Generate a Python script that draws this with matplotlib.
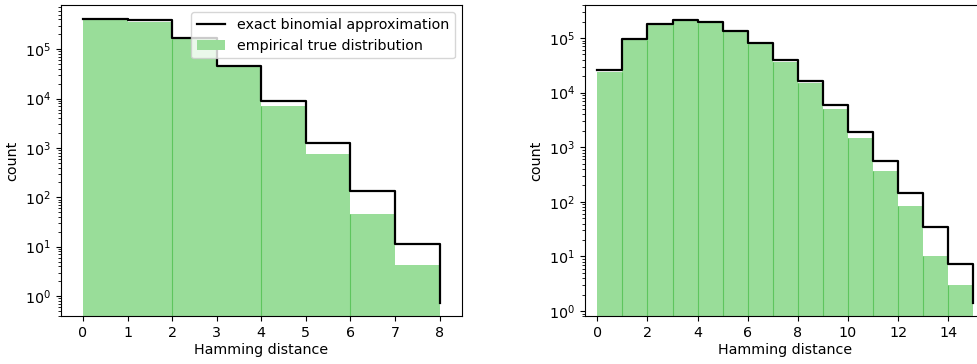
import numpy as np
import matplotlib.pyplot as plt

# left panel: 8-bit distances
left_x = list(range(9))
left_exact = [4.07e5, 3.84e5, 1.68e5, 4.64e4, 8.86e3, 1.23e3, 132, 11.1, 0.71]
left_emp = [3.9e5, 3.5e5, 1.58e5, 4.4e4, 7.1e3, 760, 45, 4.2]
left_seams = [2, 4, 6]

# right panel: 15-bit distances
right_x = list(range(16))
right_exact = [2.59e4, 9.67e4, 1.82e5, 2.18e5, 1.95e5, 1.37e5, 8.07e4, 3.88e4,
               1.65e4, 5.93e3, 1.9e3, 552, 146, 34, 7.2, 1.4]
right_emp = [2.34e4, 9.3e4, 1.78e5, 2.12e5, 1.88e5, 1.32e5, 7.8e4, 3.67e4,
             1.47e4, 4.93e3, 1.46e3, 373, 85.5, 10, 3.0]
right_seams = list(range(1, 15))

fill = '#99dd99'
seam = '#5ec55e'

plt.rcParams['font.size'] = 10.3

fig = plt.figure(figsize=(9.77, 3.64), dpi=100)
ax1 = fig.add_axes([0.0621, 0.131, 0.4107, 0.856])
ax2 = fig.add_axes([0.5985, 0.131, 0.4107, 0.856])


def panel(ax, x, exact, emp, seams, ylim):
    ax.bar(x[:-1], emp, width=1, align='edge', color=fill, linewidth=0,
           label='empirical true distribution')
    for s in seams:
        ax.vlines(s, ylim[0], min(emp[s - 1], emp[s]), color=seam, lw=0.8)
    ax.step(x, exact, where='post', color='black', lw=1.6,
            label='exact binomial approximation')
    ax.set_yscale('log')
    ax.set_xlim(-0.5, x[-1] + 0.5)
    ax.set_ylim(*ylim)
    ax.set_xlabel('Hamming distance', labelpad=2)
    ax.set_ylabel('count')


panel(ax1, left_x, left_exact, left_emp, left_seams, (10 ** -0.41, 10 ** 5.9))
panel(ax2, right_x, right_exact, right_emp, right_seams, (10 ** -0.097, 10 ** 5.61))
ax1.set_xticks(left_x)
ax2.set_xticks(range(0, 15, 2))

ax1.legend(loc='upper right')

fig.savefig('out.png')
